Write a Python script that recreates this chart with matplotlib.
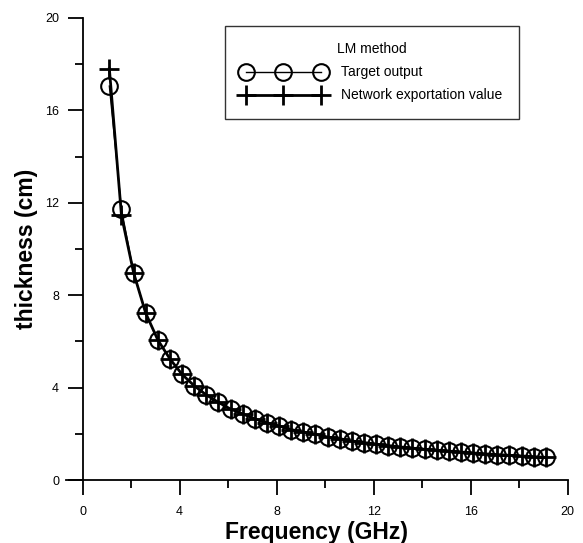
import matplotlib
matplotlib.use("Agg")
from matplotlib import pyplot as plt

plt.rcParams['font.family'] = ['Liberation Sans', 'DejaVu Sans']

freq = [1.1, 1.6, 2.1, 2.6, 3.1, 3.6, 4.1, 4.6, 5.1, 5.6, 6.1, 6.6, 7.1, 7.6,
        8.1, 8.6, 9.1, 9.6, 10.1, 10.6, 11.1, 11.6, 12.1, 12.6, 13.1, 13.6,
        14.1, 14.6, 15.1, 15.6, 16.1, 16.6, 17.1, 17.6, 18.1, 18.6, 19.1]
target = [17.05, 11.72, 8.97, 7.22, 6.06, 5.24, 4.57, 4.08, 3.68, 3.36, 3.07,
          2.86, 2.65, 2.48, 2.34, 2.18, 2.08, 1.98, 1.86, 1.79, 1.69, 1.62,
          1.55, 1.49, 1.43, 1.38, 1.33, 1.29, 1.25, 1.21, 1.17, 1.13, 1.10,
          1.07, 1.04, 1.01, 0.98]
network = [17.80, 11.45, 8.97, 7.22, 6.06, 5.24, 4.57, 4.08, 3.68, 3.36, 3.07,
           2.86, 2.65, 2.48, 2.34, 2.18, 2.08, 1.98, 1.86, 1.79, 1.69, 1.62,
           1.55, 1.49, 1.43, 1.38, 1.33, 1.29, 1.25, 1.21, 1.17, 1.13, 1.10,
           1.07, 1.04, 1.01, 0.98]
xticks = [0, 4, 8, 12, 16, 20]
yticks = [0, 4, 8, 12, 16, 20]

fig = plt.figure(figsize=(5.83, 5.43), dpi=100)
ax = fig.add_axes([0.1127, 0.116, 0.861, 0.851])

ax.plot(freq, target, color='black', lw=1, marker='o', ms=12, mfc='none',
        mec='black', mew=1.5, label='Target output')
ax.plot(freq, network, color='black', lw=2, marker='+', ms=14, mew=2,
        label='Network exportation value')

ax.set_xlim(-0.7, 20)
ax.set_ylim(0, 20)
ax.spines['left'].set_position(('data', 0))
ax.spines['left'].set_bounds(0, 20)
ax.spines['top'].set_visible(False)
ax.spines['right'].set_visible(False)
for s in ['left', 'bottom']:
    ax.spines[s].set_linewidth(1.3)

ax.set_xticks(xticks)
ax.set_yticks(yticks)
ax.set_xticks([2, 6, 10, 14, 18], minor=True)
ax.set_yticks([2, 6, 10, 14, 18], minor=True)
ax.tick_params(which='major', direction='out', length=11, width=1.3,
               labelsize=9)
ax.tick_params(axis='x', which='major', pad=8)
ax.tick_params(axis='y', which='major', pad=6)
ax.tick_params(which='minor', direction='out', length=5.5, width=1.3)

ax.set_xlabel('Frequency (GHz)', fontsize=16.5, fontweight='bold', labelpad=2)
ax.set_ylabel('thickness (cm)', fontsize=16.5, fontweight='bold', labelpad=5)

leg = ax.legend(title='LM method', loc='upper left',
                bbox_to_anchor=(0.317, 0.983), numpoints=3, fontsize=10,
                title_fontsize=10, frameon=True, fancybox=False,
                edgecolor='black', handlelength=6.0, handletextpad=1.2,
                borderpad=1.2, borderaxespad=0, labelspacing=0.65)
leg.get_frame().set_linewidth(1.0)

fig.savefig('out.png', dpi=100)
